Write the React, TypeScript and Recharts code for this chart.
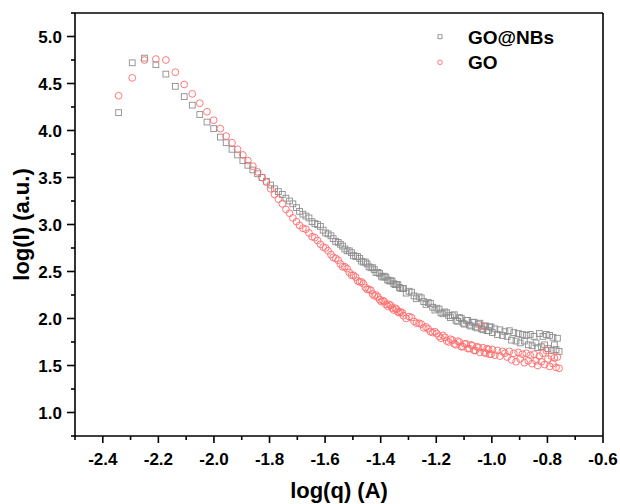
import React from "react";
import { ScatterChart, Scatter, XAxis, YAxis, ReferenceLine } from "recharts";

// log(q) grid, shared by both samples
const logQ = [
  -2.343, -2.294, -2.25, -2.209, -2.173, -2.139, -2.107, -2.078, -2.051, -2.025,
  -2.001, -1.977, -1.956, -1.935, -1.915, -1.896, -1.878, -1.86, -1.843, -1.827,
  -1.811, -1.796, -1.782, -1.768, -1.754, -1.741, -1.728, -1.716, -1.703, -1.692,
  -1.68,
  -1.658, -1.637, -1.617, -1.598, -1.579, -1.562, -1.545, -1.529, -1.513, -1.498,
  -1.483, -1.469, -1.455, -1.442, -1.429, -1.417, -1.404, -1.392, -1.381, -1.37,
  -1.359, -1.348, -1.338, -1.328, -1.318,
  -1.298, -1.28, -1.262, -1.245, -1.229, -1.213, -1.198, -1.183, -1.169, -1.155,
  -1.142, -1.129, -1.117, -1.104, -1.092, -1.081, -1.07, -1.059, -1.048, -1.037,
  -1.027, -1.017, -1.008, -0.998, -0.989, -0.98, -0.971, -0.962, -0.953, -0.945,
  -0.937, -0.929, -0.921, -0.913, -0.905, -0.898, -0.89, -0.883, -0.876, -0.869,
  -0.862, -0.855, -0.848, -0.841, -0.835, -0.829, -0.822, -0.816, -0.81, -0.804,
  -0.798, -0.792, -0.786, -0.78, -0.775, -0.769, -0.764, -0.758,
];

// log(I) for GO@NBs (squares)
const goNbs = [
  4.19, 4.72, 4.77, 4.7, 4.6, 4.47, 4.36, 4.27, 4.17, 4.09,
  4.02, 3.93, 3.87, 3.8, 3.74, 3.68, 3.63, 3.58, 3.54, 3.5,
  3.46, 3.42, 3.38, 3.35, 3.32, 3.28, 3.25, 3.22, 3.18, 3.14,
  3.11,
  3.07, 3.01, 2.98, 2.91, 2.88, 2.82, 2.79, 2.74, 2.72, 2.67,
  2.66, 2.61, 2.6, 2.55, 2.54, 2.49, 2.48, 2.44, 2.44, 2.4,
  2.4, 2.36, 2.36, 2.32, 2.32,
  2.29, 2.24, 2.23, 2.18, 2.17, 2.12, 2.11, 2.06, 2.07, 2.03,
  2.03, 1.98, 2.01, 1.95, 1.98, 1.93, 1.96, 1.91, 1.94, 1.89,
  1.92, 1.87, 1.91, 1.85, 1.89, 1.83, 1.88, 1.82, 1.86, 1.81,
  1.87, 1.77, 1.85, 1.76, 1.84, 1.74, 1.83, 1.76, 1.82, 1.72,
  1.83, 1.71, 1.81, 1.74, 1.69, 1.84, 1.7, 1.81, 1.72, 1.83,
  1.68, 1.82, 1.66, 1.8, 1.72, 1.67, 1.79, 1.65,
];

// log(I) for GO (circles)
const go = [
  4.37, 4.56, 4.75, 4.76, 4.75, 4.62, 4.49, 4.39, 4.29, 4.2,
  4.11, 4.02, 3.94, 3.87, 3.8, 3.74, 3.68, 3.62, 3.56, 3.5,
  3.45, 3.38, 3.32, 3.27, 3.22, 3.16, 3.12, 3.07, 3.03, 2.99,
  2.96,
  2.91, 2.86, 2.79, 2.75, 2.68, 2.64, 2.58, 2.55, 2.49, 2.46,
  2.4, 2.39, 2.33, 2.31, 2.26, 2.25, 2.2, 2.19, 2.15, 2.15,
  2.11, 2.11, 2.07, 2.07, 2.03,
  2.02, 1.97, 1.95, 1.9, 1.89, 1.85, 1.84, 1.79, 1.8, 1.75,
  1.77, 1.72, 1.75, 1.7, 1.73, 1.68, 1.71, 1.66, 1.69, 1.92,
  1.64, 1.68, 1.62, 1.67, 1.61, 1.66, 1.6, 1.65, 1.63, 1.59,
  1.65, 1.56, 1.63, 1.54, 1.64, 1.57, 1.62, 1.53, 1.63, 1.55,
  1.61, 1.52, 1.62, 1.55, 1.5, 1.6, 1.54, 1.63, 1.51, 1.66,
  1.57, 1.49, 1.6, 1.52, 1.58, 1.48, 1.59, 1.47,
];

// extra points in between, middle of the curve
const logQMid = [
  -1.669, -1.647, -1.627, -1.607, -1.589, -1.571, -1.553, -1.537, -1.521, -1.505,
  -1.49, -1.476, -1.462, -1.449, -1.435, -1.423, -1.41, -1.398, -1.387, -1.375,
  -1.364, -1.353, -1.343, -1.333, -1.322,
  -1.308, -1.289, -1.271, -1.254, -1.237, -1.221, -1.205, -1.19, -1.176, -1.162,
  -1.149, -1.135, -1.123, -1.11, -1.098, -1.087, -1.075, -1.064, -1.053, -1.043,
  -1.032, -1.022, -1.012, -1.003,
];
const goNbsMid = [
  3.09, 3.03, 3.0, 2.94, 2.9, 2.85, 2.81, 2.77, 2.72, 2.7,
  2.66, 2.64, 2.6, 2.58, 2.54, 2.52, 2.49, 2.45, 2.45, 2.41,
  2.4, 2.37, 2.36, 2.33, 2.32,
  2.27, 2.28, 2.21, 2.22, 2.15, 2.16, 2.09, 2.1, 2.05, 2.06,
  2.01, 2.04, 1.97, 2.0, 1.94, 1.98, 1.92, 1.96, 1.9, 1.95,
  1.88, 1.92, 1.87, 1.91,
];
const goMid = [
  2.95, 2.87, 2.83, 2.76, 2.72, 2.65, 2.62, 2.55, 2.53, 2.46,
  2.44, 2.39, 2.37, 2.31, 2.3, 2.24, 2.23, 2.18, 2.18, 2.13,
  2.14, 2.09, 2.1, 2.06, 2.06,
  2.0, 2.01, 1.95, 1.94, 1.91, 1.86, 1.86, 1.81, 1.82, 1.76,
  1.78, 1.73, 1.76, 1.7, 1.73, 1.68, 1.72, 1.66, 1.7, 1.64,
  1.69, 1.63, 1.67, 1.62,
];

const xTicks = [
  -2.5, -2.4, -2.3, -2.2, -2.1, -2.0, -1.9, -1.8, -1.7, -1.6,
  -1.5, -1.4, -1.3, -1.2, -1.1, -1.0, -0.9, -0.8, -0.7, -0.6,
];
const yTicks = [
  0.75, 1.0, 1.25, 1.5, 1.75, 2.0, 2.25, 2.5, 2.75, 3.0,
  3.25, 3.5, 3.75, 4.0, 4.25, 4.5, 4.75, 5.0, 5.25,
];

const FONT = '"Liberation Sans", Arial, Helvetica, sans-serif';
const GRAY = "#8e8e8e";
const RED = "#ff6b6b";

const nbsData = [
  ...logQ.map((x, i) => ({ x, y: goNbs[i] })),
  ...logQMid.map((x, i) => ({ x, y: goNbsMid[i] })),
];
const goData = [
  ...logQ.map((x, i) => ({ x, y: go[i] })),
  ...logQMid.map((x, i) => ({ x, y: goMid[i] })),
];

const XTick = (props: any) => {
  const { x, y, payload } = props;
  const v = payload.value;
  const major = Math.abs(v * 5 - Math.round(v * 5)) < 1e-6;
  return (
    <g>
      <line x1={x} y1={y} x2={x} y2={y + (major ? 7 : 4)} stroke="#000" strokeWidth={1.6} />
      {major && (
        <text x={x} y={y + 29} textAnchor="middle" fontFamily={FONT} fontWeight={700} fontSize={17} fill="#000">
          {v.toFixed(1)}
        </text>
      )}
    </g>
  );
};

const YTick = (props: any) => {
  const { x, y, payload } = props;
  const v = payload.value;
  const major = Math.abs(v * 2 - Math.round(v * 2)) < 1e-6;
  return (
    <g>
      <line x1={x} y1={y} x2={x - (major ? 8 : 4)} y2={y} stroke="#000" strokeWidth={1.6} />
      {major && (
        <text x={x - 13} y={y + 6} textAnchor="end" fontFamily={FONT} fontWeight={700} fontSize={17} fill="#000">
          {v.toFixed(1)}
        </text>
      )}
    </g>
  );
};

const Square = (p: any) => (
  <rect x={p.cx - 2.9} y={p.cy - 2.9} width={5.8} height={5.8} fill="none" stroke={GRAY} strokeWidth={0.9} />
);
const Circle = (p: any) => (
  <circle cx={p.cx} cy={p.cy} r={3.4} fill="none" stroke={RED} strokeWidth={0.9} />
);

export default function App() {
  return (
    <div style={{ position: "absolute", left: 0, top: 0, width: 620, height: 504, background: "#fff" }}>
      <ScatterChart width={620} height={504} margin={{ top: 13, right: 17, bottom: 28, left: 0 }}>
        <XAxis
          type="number"
          dataKey="x"
          domain={[-2.5, -0.6]}
          ticks={xTicks}
          interval={0}
          allowDataOverflow
          height={40}
          tickSize={0}
          tickMargin={0}
          tickLine={false}
          tick={<XTick />}
          axisLine={{ stroke: "#000", strokeWidth: 1.6 }}
          label={(lp: any) => {
            const vb = lp.viewBox;
            return (
              <text x={vb.x + vb.width / 2} y={vb.y + 62} textAnchor="middle" fontFamily={FONT} fontWeight={700} fontSize={22} fill="#000">
                log(q) (A)
              </text>
            );
          }}
        />
        <YAxis
          type="number"
          dataKey="y"
          domain={[0.75, 5.25]}
          ticks={yTicks}
          interval={0}
          allowDataOverflow
          width={75}
          tickSize={0}
          tickMargin={0}
          tickLine={false}
          tick={<YTick />}
          axisLine={{ stroke: "#000", strokeWidth: 1.6 }}
          label={(lp: any) => {
            const vb = lp.viewBox;
            const cy = vb.y + vb.height / 2;
            return (
              <text x={29} y={cy} transform={`rotate(-90, 29, ${cy})`} textAnchor="middle" fontFamily={FONT} fontWeight={700} fontSize={22} fill="#000">
                log(I) (a.u.)
              </text>
            );
          }}
        />
        <ReferenceLine y={5.25} stroke="#000" strokeWidth={1.6} />
        <ReferenceLine x={-0.6} stroke="#000" strokeWidth={1.6} />
        <Scatter name="GO@NBs" data={nbsData} shape={Square} isAnimationActive={false} />
        <Scatter name="GO" data={goData} shape={Circle} isAnimationActive={false} />
      </ScatterChart>
      <svg width={620} height={504} style={{ position: "absolute", left: 0, top: 0, pointerEvents: "none" }}>
        <rect x={438} y={34.7} width={4} height={4} fill="none" stroke={GRAY} strokeWidth={0.9} />
        <text x={468} y={43.5} fontFamily={FONT} fontWeight={700} fontSize={19} fill="#000">
          GO@NBs
        </text>
        <circle cx={440} cy={62.3} r={2.3} fill="none" stroke={RED} strokeWidth={0.9} />
        <text x={468} y={69} fontFamily={FONT} fontWeight={700} fontSize={19} fill="#000">
          GO
        </text>
      </svg>
    </div>
  );
}
